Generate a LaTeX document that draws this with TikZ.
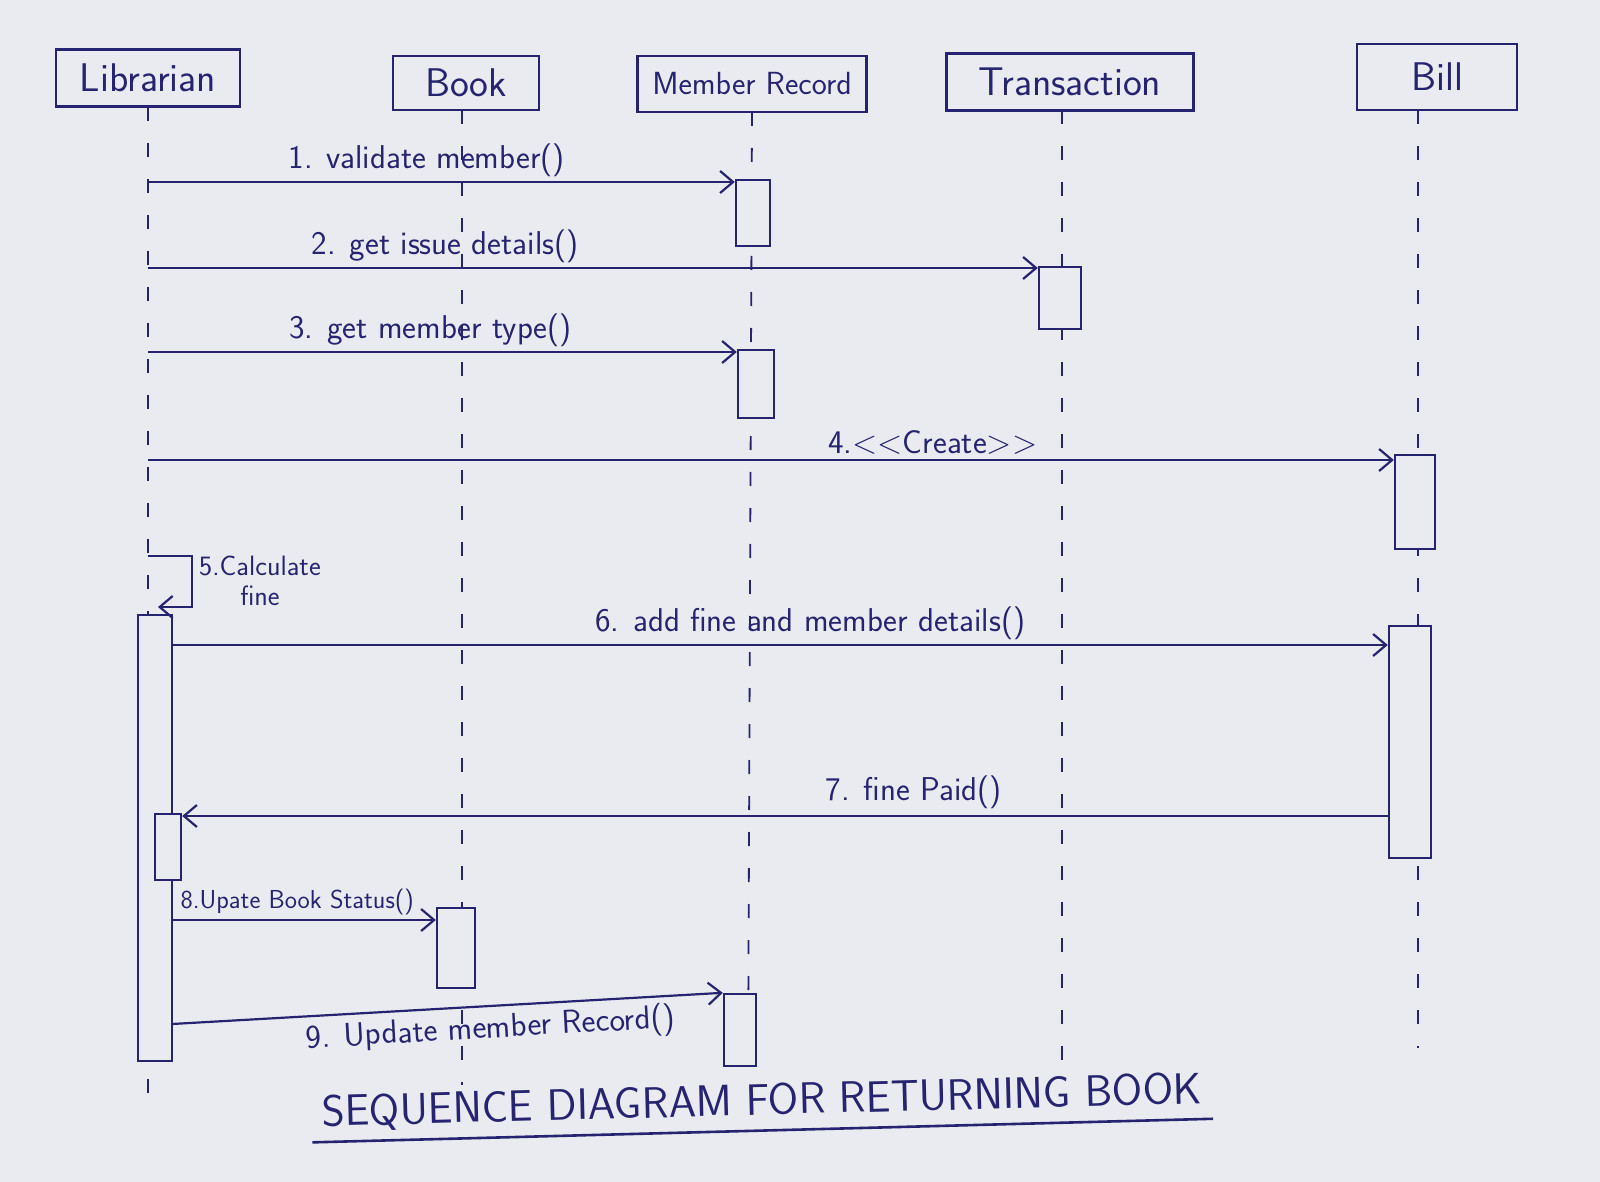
\documentclass[tikz,border=0pt]{standalone}
\usetikzlibrary{arrows.meta}
\definecolor{ink}{RGB}{38,36,112}
\definecolor{paper}{RGB}{234,235,240}
\begin{document}
\begin{tikzpicture}[x=1pt,y=-1pt,
  every node/.style={text=ink},
  actor/.style={draw=ink, line width=2.4pt, fill=paper, minimum height=57pt, inner sep=0pt,
                font=\sffamily\fontsize{40}{46}\selectfont},
  life/.style={draw=ink, line width=1.8pt, dash pattern=on 14pt off 22pt},
  act/.style={draw=ink, line width=2.4pt, fill=paper, minimum width=36pt, inner sep=0pt},
  msg/.style={draw=ink, line width=2.2pt, -{Straight Barb[length=13pt,width=22pt,line width=2.2pt]}},
  lbl/.style={font=\sffamily\fontsize{33}{38}\selectfont, inner sep=0pt},
  slbl/.style={font=\sffamily\fontsize{26}{30}\selectfont, inner sep=0pt},
]
\fill[paper] (0,0) rectangle (1600,1182);
\useasboundingbox (0,0) rectangle (1600,1182);

% actors
\node[actor, minimum width=184pt] (lib) at (148,78) {Librarian};
\node[actor, minimum width=146pt, minimum height=54pt] (book) at (466,83) {Book};
\node[actor, minimum width=229pt, minimum height=56pt, font=\sffamily\fontsize{32}{38}\selectfont] (mr) at (752,84) {Member Record};
\node[actor, minimum width=247pt] (trans) at (1070,82) {Transaction};
\node[actor, minimum width=160pt, minimum height=66pt] (bill) at (1437,77) {Bill};

% lifeline ends
\coordinate (libtop) at (148,107);   \coordinate (libbot) at (148,1100);
\coordinate (booktop) at (462,110);  \coordinate (bookbot) at (462,1085);
\coordinate (mrtop) at (752,112);    \coordinate (mrbot) at (748,1082);
\coordinate (trtop) at (1062,110);   \coordinate (trbot) at (1062,1068);
\coordinate (billtop) at (1418,110); \coordinate (billbot) at (1418,1048);
\draw[life] (libtop) -- (libbot);
\draw[life] (booktop) -- (bookbot);
\draw[life] (mrtop) -- (mrbot);
\draw[life] (trtop) -- (trbot);
\draw[life] (billtop) -- (billbot);

% activations
\node[act, minimum width=34pt, minimum height=66pt] (a1) at (753,213) {};
\node[act, minimum width=42pt, minimum height=62pt] (a2) at (1060,298) {};
\node[act, minimum width=36pt, minimum height=68pt] (a3) at (756,384) {};
\node[act, minimum width=40pt, minimum height=94pt] (a4) at (1415,502) {};
\node[act, minimum width=34pt, minimum height=446pt] (libact) at (155,838) {};
\node[act, minimum width=42pt, minimum height=232pt] (a5) at (1410,742) {};
\node[act, minimum width=26pt, minimum height=66pt] (libsm) at (168,847) {};
\node[act, minimum width=38pt, minimum height=80pt] (a6) at (456,948) {};
\node[act, minimum width=32pt, minimum height=72pt] (a7) at (740,1030) {};

% messages
\coordinate (m1) at (148,182);
\draw[msg] (m1) -- node[lbl, above=4pt, pos=0.475] {1. validate member()} (m1 -| a1.west);
\coordinate (m2) at (148,268);
\draw[msg] (m2) -- node[lbl, above=4pt, pos=0.334] {2. get issue details()} (m2 -| a2.west);
\coordinate (m3) at (148,352);
\draw[msg] (m3) -- node[lbl, above=4pt, pos=0.48] {3. get member type()} (m3 -| a3.west);
\coordinate (m4) at (148,460);
\draw[msg] (m4) -- node[lbl, above=4pt, pos=0.63] {4.<{}<Create>{}>} (m4 -| a4.west);

% self message 5
\coordinate (m5) at (148,556);
\coordinate (m5r) at (192,556);
\coordinate (m5b) at (192,607);
\coordinate (m5e) at (158,607);
\draw[msg] (m5) -- (m5r) -- (m5b) -- (m5e);
\node[slbl, anchor=north west, align=center, font=\sffamily\fontsize{28}{30}\selectfont] (l5) at (199,556) {5.Calculate\\fine};

\coordinate (m6) at (172,645);
\draw[msg] (m6) -- node[lbl, above=4pt, pos=0.525] {6. add fine and member details()} (m6 -| a5.west);
\coordinate (m7) at (1389,816);
\draw[msg] (m7) -- node[lbl, above=6pt, pos=0.394] {7. fine Paid()} (m7 -| libsm.east);
\coordinate (m8) at (172,920);
\draw[msg] (m8) -- node[slbl, above=4pt, pos=0.475] {8.Upate Book Status()} (m8 -| a6.west);
\coordinate (m9) at (172,1024);
\draw[msg] (m9) -- node[lbl, below=6pt, pos=0.576, sloped] {9. Update member Record()} (a7.north west);

% title
\node[font=\sffamily\fontsize{44}{50}\selectfont, rotate=1.5, inner sep=10pt] (title) at (762,1102) {SEQUENCE DIAGRAM FOR RETURNING BOOK};
\draw[ink, line width=2.6pt] (title.south west) -- (title.south east);
\end{tikzpicture}
\end{document}
